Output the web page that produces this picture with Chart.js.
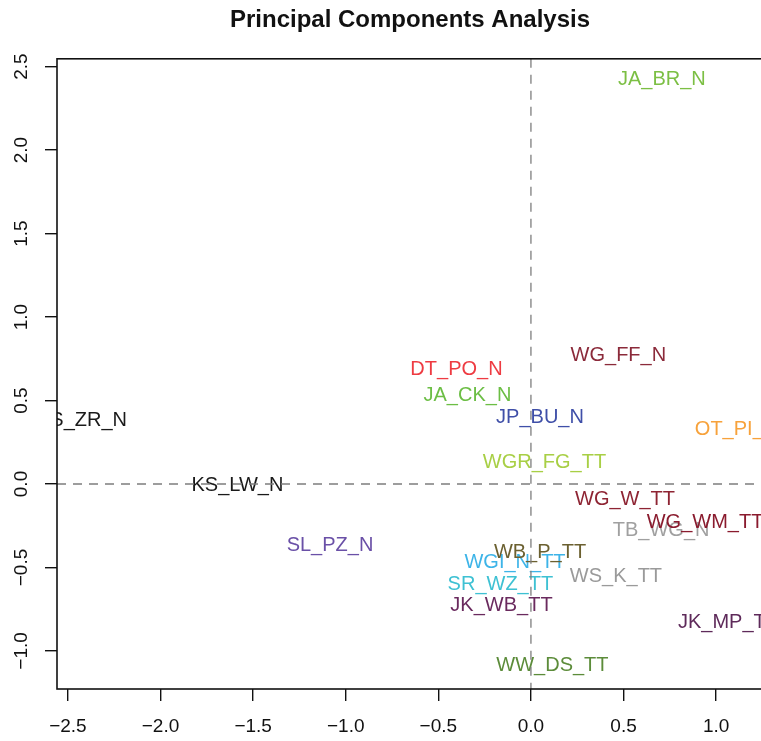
<!DOCTYPE html>
<html>
<head>
<meta charset="utf-8">
<title>Principal Components Analysis</title>
<script src="https://cdn.jsdelivr.net/npm/chart.js@4.4.1/dist/chart.umd.min.js"></script>
<style>
  html, body { margin: 0; padding: 0; background: #fff; overflow: hidden; }
  canvas { display: block; }
</style>
</head>
<body>
<canvas id="pcaChart" width="820" height="741"></canvas>
<script>
// sample labels and their scores on the first two components
const samples = ['JA_BR_N', 'KS_ZR_N', 'KS_LW_N', 'SL_PZ_N', 'DT_PO_N', 'JA_CK_N', 'JP_BU_N',
  'WG_FF_N', 'OT_PI_N', 'WGR_FG_TT', 'WG_W_TT', 'TB_WG_N', 'WG_WM_TT', 'WGI_N_TT',
  'WB_P_TT', 'WS_K_TT', 'SR_WZ_TT', 'JK_WB_TT', 'JK_MP_TT', 'WW_DS_TT'];
const pc1 = [0.707, -2.424, -1.585, -1.085, -0.402, -0.343, 0.049,
  0.472, 1.11, 0.073, 0.508, 0.703, 0.94, -0.086,
  0.049, 0.459, -0.165, -0.159, 1.064, 0.116];
const pc2 = [2.424, 0.383, -0.006, -0.371, 0.686, 0.533, 0.398,
  0.770, 0.327, 0.126, -0.093, -0.276, -0.231, -0.47,
  -0.41, -0.554, -0.602, -0.728, -0.83, -1.087];
const sampleColors = ['#7cbf44', '#1a1a1a', '#1a1a1a', '#6a50a7', '#ee3b42', '#6cbe45', '#3f4fa8',
  '#8b2a3a', '#f7a23b', '#a8cf45', '#8e2433', '#a0a0a0', '#8a1b2e', '#3db4e8',
  '#6b6030', '#9a9a9a', '#3ec1d3', '#6a2a5e', '#5e2a5a', '#5c8c3a'];

const xTicks = [-2.5, -2.0, -1.5, -1.0, -0.5, 0.0, 0.5, 1.0];
const yTicks = [-1.0, -0.5, 0.0, 0.5, 1.0, 1.5, 2.0, 2.5];

const points = pc1.map((x, i) => ({ x: x, y: pc2[i] }));

function fmt(v) {
  return (v < 0 ? '\u2212' : '') + Math.abs(v).toFixed(1);
}

// text labels at the points, then the dashed zero lines on top
const labelPlugin = {
  id: 'pcaLabels',
  afterDatasetsDraw(chart) {
    const ctx = chart.ctx;
    const area = chart.chartArea;
    const meta = chart.getDatasetMeta(0);
    ctx.save();
    ctx.beginPath();
    ctx.rect(area.left, area.top, area.right - area.left, area.bottom - area.top);
    ctx.clip();
    ctx.font = '20px "Liberation Sans", Arial, sans-serif';
    ctx.textAlign = 'center';
    ctx.textBaseline = 'middle';
    meta.data.forEach((pt, i) => {
      ctx.fillStyle = sampleColors[i];
      ctx.fillText(samples[i], pt.x, pt.y);
    });

    const x0 = chart.scales.x.getPixelForValue(0);
    const y0 = chart.scales.y.getPixelForValue(0);
    ctx.strokeStyle = '#7d7d7d';
    ctx.lineWidth = 1.3;
    ctx.setLineDash([9, 7]);
    ctx.beginPath();
    ctx.moveTo(x0, area.top);
    ctx.lineTo(x0, area.bottom);
    ctx.moveTo(area.left, y0);
    ctx.lineTo(area.right, y0);
    ctx.stroke();
    ctx.restore();

    // box around the plot region
    ctx.save();
    ctx.strokeStyle = '#111';
    ctx.lineWidth = 1.6;
    ctx.strokeRect(area.left, area.top, area.right - area.left, area.bottom - area.top);
    ctx.restore();
  }
};

const config = {
  type: 'scatter',
  data: {
    datasets: [{
      data: points,
      pointRadius: 0,
      pointHoverRadius: 0
    }]
  },
  options: {
    responsive: false,
    animation: false,
    layout: { padding: 0 },
    plugins: {
      legend: { display: false },
      tooltip: { enabled: false },
      title: {
        display: true,
        text: 'Principal Components Analysis',
        color: '#111',
        font: { family: '"Liberation Sans", Arial, sans-serif', size: 24, weight: 'bold' },
        padding: { top: 6, bottom: 24 }
      }
    },
    scales: {
      x: {
        type: 'linear',
        min: -2.559,
        max: 1.253,
        afterFit(scale) { scale.height = 52; },
        afterBuildTicks(scale) { scale.ticks = xTicks.map(v => ({ value: v })); },
        border: { display: false },
        grid: { drawOnChartArea: false, drawTicks: true, tickLength: 12, color: '#111', lineWidth: 1.4 },
        ticks: {
          maxRotation: 0,
          padding: 14,
          color: '#111',
          font: { family: '"Liberation Sans", Arial, sans-serif', size: 19 },
          callback: v => fmt(v)
        }
      },
      y: {
        type: 'linear',
        min: -1.228,
        max: 2.547,
        afterFit(scale) { scale.width = 57; },
        afterBuildTicks(scale) { scale.ticks = yTicks.map(v => ({ value: v })); },
        border: { display: false },
        grid: { drawOnChartArea: false, drawTicks: true, tickLength: 12, color: '#111', lineWidth: 1.4 },
        ticks: {
          minRotation: 90,
          maxRotation: 90,
          crossAlign: 'center',
          padding: 4,
          color: '#111',
          font: { family: '"Liberation Sans", Arial, sans-serif', size: 19 },
          callback: v => fmt(v)
        }
      },
      // empty right margin so the title centres over the plot region
      yRight: {
        type: 'linear',
        position: 'right',
        display: true,
        afterFit(scale) { scale.width = 57; },
        border: { display: false },
        grid: { display: false },
        ticks: { display: false }
      }
    }
  },
  plugins: [labelPlugin]
};

document.addEventListener('DOMContentLoaded', function() {
  new Chart(document.getElementById('pcaChart'), config);
});
</script>
</body>
</html>
